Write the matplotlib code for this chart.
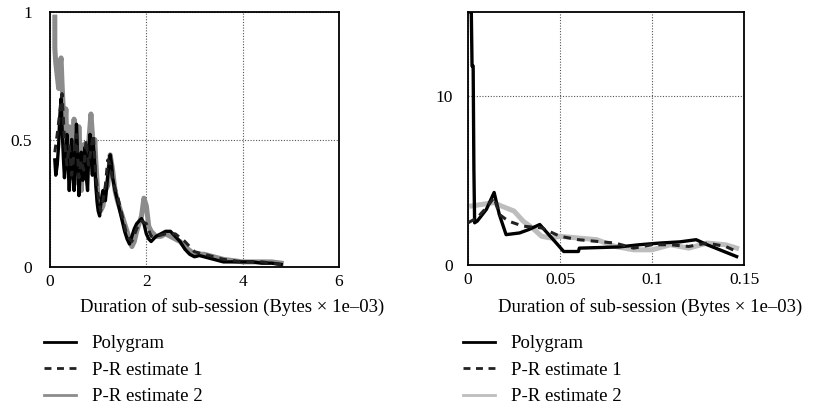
"""
Sub-session duration densities: polygram vs P-R estimates (two panels).
"""

import matplotlib
matplotlib.use('Agg')
import matplotlib.pyplot as plt

# ── Data: left panel ─────────────────────────────────────────
L_POLY_X = [0.10, 0.12, 0.15, 0.18, 0.20, 0.23, 0.25, 0.28, 0.30, 0.33,
            0.35, 0.38, 0.40, 0.43, 0.45, 0.48, 0.50, 0.53, 0.55, 0.58,
            0.60, 0.63, 0.65, 0.68, 0.70, 0.73, 0.75, 0.78, 0.80, 0.83,
            0.85, 0.88, 0.90, 0.93, 0.95, 0.98, 1.00, 1.03, 1.05, 1.08,
            1.10, 1.15, 1.20, 1.25, 1.28, 1.30, 1.35, 1.40, 1.45, 1.50,
            1.55, 1.60, 1.65, 1.70, 1.75, 1.80, 1.85, 1.90, 1.95, 2.00,
            2.05, 2.10, 2.15, 2.20, 2.30, 2.40, 2.50, 2.55, 2.60, 2.70,
            2.80, 2.90, 3.00, 3.10, 3.20, 3.30, 3.40, 3.50, 3.60, 3.80,
            4.00, 4.20, 4.40, 4.60, 4.80]
L_POLY_Y = [0.42, 0.36, 0.40, 0.48, 0.58, 0.66, 0.55, 0.42, 0.35, 0.45,
            0.52, 0.38, 0.30, 0.42, 0.50, 0.36, 0.30, 0.44, 0.56, 0.40,
            0.28, 0.38, 0.45, 0.34, 0.40, 0.47, 0.36, 0.30, 0.42, 0.52,
            0.44, 0.36, 0.48, 0.40, 0.32, 0.25, 0.22, 0.20, 0.24, 0.28,
            0.30, 0.26, 0.36, 0.44, 0.40, 0.35, 0.30, 0.26, 0.22, 0.18,
            0.14, 0.11, 0.09, 0.12, 0.15, 0.17, 0.18, 0.19, 0.17, 0.13,
            0.11, 0.10, 0.11, 0.12, 0.13, 0.14, 0.14, 0.13, 0.12, 0.10,
            0.07, 0.05, 0.04, 0.045, 0.04, 0.035, 0.03, 0.025, 0.02, 0.02,
            0.02, 0.02, 0.015, 0.015, 0.01]

L_EST1_X = [0.10, 0.15, 0.20, 0.25, 0.30, 0.35, 0.40, 0.45, 0.50, 0.55,
            0.60, 0.65, 0.70, 0.75, 0.80, 0.85, 0.90, 0.95, 1.00, 1.05,
            1.10, 1.15, 1.20, 1.25, 1.30, 1.40, 1.50, 1.60, 1.70, 1.80,
            1.90, 2.00, 2.10, 2.20, 2.40, 2.60, 2.80, 3.00, 3.20, 3.40,
            3.60, 3.80, 4.00, 4.20, 4.40, 4.60, 4.80]
L_EST1_Y = [0.45, 0.52, 0.60, 0.68, 0.50, 0.40, 0.48, 0.36, 0.45, 0.52,
            0.35, 0.42, 0.38, 0.50, 0.40, 0.46, 0.52, 0.36, 0.28, 0.22,
            0.26, 0.32, 0.42, 0.40, 0.34, 0.28, 0.20, 0.12, 0.10, 0.15,
            0.18, 0.17, 0.12, 0.12, 0.13, 0.13, 0.10, 0.06, 0.05, 0.04,
            0.03, 0.025, 0.02, 0.02, 0.02, 0.015, 0.01]

L_EST2_X = [0.10, 0.10, 0.12, 0.15, 0.18, 0.20, 0.23, 0.25, 0.28, 0.30,
            0.33, 0.35, 0.38, 0.40, 0.43, 0.45, 0.48, 0.50, 0.53, 0.55,
            0.58, 0.60, 0.63, 0.65, 0.68, 0.70, 0.75, 0.80, 0.85, 0.88,
            0.90, 0.93, 0.95, 1.00, 1.05, 1.10, 1.15, 1.20, 1.25, 1.30,
            1.35, 1.40, 1.50, 1.60, 1.70, 1.75, 1.80, 1.90, 1.95, 2.00,
            2.05, 2.10, 2.20, 2.30, 2.40, 2.50, 2.60, 2.70, 2.80, 3.00,
            3.20, 3.40, 3.60, 3.80, 4.00, 4.20, 4.40, 4.60, 4.80]
L_EST2_Y = [0.98, 0.86, 0.80, 0.75, 0.70, 0.78, 0.82, 0.72, 0.60, 0.52,
            0.62, 0.48, 0.40, 0.55, 0.45, 0.35, 0.50, 0.58, 0.42, 0.33,
            0.40, 0.55, 0.38, 0.30, 0.42, 0.48, 0.36, 0.48, 0.60, 0.52,
            0.40, 0.50, 0.42, 0.26, 0.22, 0.24, 0.30, 0.32, 0.44, 0.38,
            0.30, 0.26, 0.20, 0.14, 0.08, 0.10, 0.14, 0.20, 0.27, 0.24,
            0.16, 0.14, 0.12, 0.12, 0.13, 0.12, 0.11, 0.10, 0.08, 0.05,
            0.05, 0.04, 0.03, 0.025, 0.02, 0.02, 0.02, 0.02, 0.015]

# ── Data: right panel ────────────────────────────────────────
R_POLY_X = [0.0005, 0.0018, 0.0022, 0.0028, 0.0032, 0.0036, 0.0050, 0.0100,
            0.0142, 0.0170, 0.0207, 0.0280, 0.0330, 0.0390, 0.0480, 0.0520,
            0.0600, 0.0605, 0.0820, 0.0930, 0.1040, 0.1150, 0.1240, 0.1300,
            0.1460]
R_POLY_Y = [15.0, 15.0, 11.8, 11.8, 5.7, 2.5, 2.6, 3.3,
            4.3, 3.0, 1.8, 1.9, 2.1, 2.4, 1.3, 0.8,
            0.8, 1.0, 1.07, 1.2, 1.3, 1.37, 1.5, 1.2,
            0.5]

R_EST1_X = [0.000, 0.005, 0.010, 0.0142, 0.017, 0.022, 0.030, 0.040, 0.050,
            0.060, 0.070, 0.080, 0.090, 0.100, 0.110, 0.120, 0.130, 0.140,
            0.146]
R_EST1_Y = [2.5, 2.8, 3.4, 4.0, 3.0, 2.6, 2.3, 2.2, 1.7,
            1.5, 1.4, 1.3, 1.0, 1.2, 1.2, 1.1, 1.3, 1.1,
            0.8]

R_EST2_X = [0.002, 0.008, 0.014, 0.018, 0.025, 0.030, 0.035, 0.040, 0.045,
            0.050, 0.060, 0.070, 0.080, 0.090, 0.100, 0.110, 0.120, 0.130,
            0.140, 0.146]
R_EST2_Y = [3.5, 3.6, 3.7, 3.5, 3.2, 2.6, 2.2, 1.7, 1.6,
            1.7, 1.6, 1.5, 1.1, 0.9, 0.9, 1.2, 1.0, 1.3,
            1.2, 1.0]

LABELS = ['Polygram', 'P-R estimate 1', 'P-R estimate 2']
XLABEL = 'Duration of sub-session (Bytes \u00d7 1e\u201303)'

# ── Plot ─────────────────────────────────────────────────────
W, H = 822, 413
plt.rcParams.update({'font.family': 'Liberation Serif', 'font.size': 12})
fig = plt.figure(figsize=(W / 100, H / 100), dpi=100)


def px_rect(x0, y0, x1, y1):
    return [x0 / W, 1 - y1 / H, (x1 - x0) / W, (y1 - y0) / H]


def style(ax, xlim, ylim, xt, xtl, yt, ytl, ypad):
    ax.set_xlim(*xlim); ax.set_ylim(*ylim)
    ax.set_xticks(xt); ax.set_xticklabels(xtl)
    ax.set_yticks(yt); ax.set_yticklabels(ytl)
    ax.tick_params(length=0, labelsize=12.5)
    ax.tick_params(axis='x', pad=5)
    ax.tick_params(axis='y', pad=ypad)
    ax.grid(True, color='#555', ls=(0, (1, 1.5)), lw=0.8)
    for s in ax.spines.values():
        s.set_linewidth(1.3)


def draw(ax, px, py, e1x, e1y, e2x, e2y, gray):
    h2, = ax.plot(e2x, e2y, color=gray, lw=3.6, solid_joinstyle='round', zorder=2)
    h0, = ax.plot(px, py, color='black', lw=2.4, zorder=3)
    h1, = ax.plot(e1x, e1y, color='#222', lw=2.2, ls=(0, (2.5, 2)), zorder=4)
    return [h0, h1, h2]


# left panel
ax1 = fig.add_axes(px_rect(50, 12, 339, 267))
hl = draw(ax1, L_POLY_X, L_POLY_Y, L_EST1_X, L_EST1_Y, L_EST2_X, L_EST2_Y, '#8c8c8c')
style(ax1, (0, 6), (0, 1), [0, 2, 4, 6], ['0', '2', '4', '6'],
      [0, 0.5, 1], ['0', '0.5', '1'], 13)

# right panel
ax2 = fig.add_axes(px_rect(468, 12, 744, 265))
hr = draw(ax2, R_POLY_X, R_POLY_Y, R_EST1_X, R_EST1_Y, R_EST2_X, R_EST2_Y, '#bdbdbd')
style(ax2, (0, 0.15), (0, 15), [0, 0.05, 0.1, 0.15], ['0', '0.05', '0.1', '0.15'],
      [0, 10], ['0', '10'], 11)

# x labels + legends below the panels
for cx, lx, handles in [(232, 44, hl), (650, 463, hr)]:
    fig.text(cx / W, 1 - 307 / H, XLABEL, ha='center', va='center', fontsize=13.5)
    leg = fig.legend(handles, LABELS, loc='upper left', bbox_to_anchor=(lx / W, 1 - 335 / H),
                     frameon=False, fontsize=13.5, borderpad=0, borderaxespad=0,
                     handlelength=1.7, handletextpad=0.85, labelspacing=0.5)
    for ln in leg.get_lines():
        ln.set_linewidth(2.0)

fig.savefig('out.png', dpi=100, facecolor='white')
